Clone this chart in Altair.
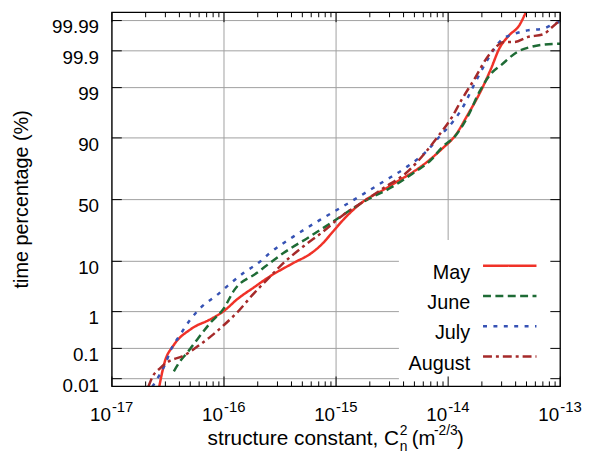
import altair as alt
import pandas as pd
from statistics import NormalDist

# ---------------- data ----------------
months = ["May", "June", "July", "August"]

may_x = [2.64e-17, 2.96e-17, 3.54e-17, 5.08e-17, 7.63e-17, 1.0e-16, 1.31e-16, 1.85e-16,
         2.58e-16, 4.16e-16, 6.03e-16, 7.64e-16, 9.37e-16, 1.19e-15, 1.50e-15, 1.85e-15,
         2.59e-15, 3.63e-15, 5.09e-15, 6.67e-15, 8.76e-15, 1.15e-14, 1.50e-14, 1.98e-14,
         2.42e-14, 2.86e-14, 3.51e-14, 4.30e-14, 4.93e-14, 5.2e-14]
may_p = [0.005, 0.0375, 0.122, 0.36, 0.655, 1.04, 1.92, 3.42, 5.58, 9.4, 13.35, 18.3,
         25.3, 34.8, 43.5, 50.0, 57.6, 65.4, 72.7, 79.0, 85.3, 90.7, 96.15, 98.87, 99.68,
         99.915, 99.968, 99.985, 99.995, 99.997]

june_x = [3.57e-17, 4.02e-17, 4.75e-17, 5.82e-17, 7.63e-17, 1.0e-16, 1.23e-16, 1.97e-16,
          3.39e-16, 5.82e-16, 9.37e-16, 1.41e-15, 1.97e-15, 2.96e-15, 4.76e-15, 7.15e-15,
          8.76e-15, 1.19e-14, 1.50e-14, 1.91e-14, 2.42e-14, 2.97e-14, 4.16e-14, 5.46e-14,
          7.15e-14, 1.0e-13]
june_p = [0.018, 0.0375, 0.0775, 0.191, 0.54, 1.21, 2.97, 6.41, 13.35, 22.1, 32.3, 42.7,
          50.8, 58.9, 70.3, 80.0, 86.0, 91.26, 95.84, 98.77, 99.56, 99.74, 99.893, 99.924,
          99.936, 99.94]

july_x = [2.29e-17, 2.55e-17, 2.96e-17, 3.39e-17, 4.02e-17, 4.92e-17, 6.44e-17, 8.45e-17,
          1.07e-16, 1.50e-16, 2.11e-16, 2.52e-16, 4.16e-16, 7.13e-16, 1.07e-15, 1.50e-15,
          2.59e-15, 4.45e-15, 6.24e-15, 8.47e-15, 1.11e-14, 1.32e-14, 1.73e-14, 2.11e-14,
          2.59e-14, 2.96e-14, 3.88e-14, 5.09e-14, 7.15e-14, 8.76e-14, 1.0e-13]
july_p = [0.005, 0.0102, 0.029, 0.0975, 0.237, 0.593, 1.36, 2.26, 3.62, 6.41, 9.98, 13.05,
          22.1, 33.5, 42.7, 50.8, 64.1, 76.0, 83.6, 90.7, 94.8, 96.97, 99.22, 99.74, 99.915,
          99.953, 99.971, 99.978, 99.981, 99.987, 99.989]

aug_x = [2.11e-17, 2.33e-17, 2.67e-17, 3.16e-17, 4.44e-17, 5.82e-17, 7.63e-17, 1.0e-16,
         1.31e-16, 1.85e-16, 2.58e-16, 3.16e-16, 5.09e-16, 7.64e-16, 1.15e-15, 1.73e-15,
         2.59e-15, 4.45e-15, 6.24e-15, 8.18e-15, 1.07e-14, 1.32e-14, 1.73e-14, 2.19e-14,
         2.59e-14, 3.17e-14, 3.88e-14, 5.09e-14, 7.15e-14, 8.18e-14, 9.9e-14]
aug_p = [0.005, 0.0127, 0.0225, 0.0375, 0.061, 0.116, 0.225, 0.461, 0.956, 2.58, 5.5, 8.3,
         16.5, 25.3, 37.3, 48.0, 58.9, 72.6, 83.5, 90.7, 95.5, 98.1, 99.41, 99.83, 99.915,
         99.947, 99.947, 99.963, 99.971, 99.981, 99.990]

x_decades = [1e-17, 1e-16, 1e-15, 1e-14, 1e-13]
x_exponents = ["-17", "-16", "-15", "-14", "-13"]
y_tick_pct = [0.01, 0.1, 1, 10, 50, 90, 99, 99.9, 99.99]
y_tick_labels = ["0.01", "0.1", "1", "10", "50", "90", "99", "99.9", "99.99"]

# ---------------- styles ----------------
colors = ["#f03228", "#1e6b35", "#3652b4", "#a52a2a"]
dashes = [[1, 0], [8, 4.5], [4, 6.5], [9, 4, 3, 4]]
FONT = "Liberation Sans"
W, H = 453, 378

nd = NormalDist()


def probit(p):
    return nd.inv_cdf(p / 100.0)


rows = []
for m, xs, ps in zip(months, [may_x, june_x, july_x, aug_x], [may_p, june_p, july_p, aug_p]):
    for i, (xv, pv) in enumerate(zip(xs, ps)):
        rows.append({"month": m, "x": xv, "p": pv, "z": probit(pv), "i": i})
df = pd.DataFrame(rows)

xscale = alt.Scale(type="log", domain=[1e-17, 1e-13])
yscale = alt.Scale(domain=[-3.879, 3.891])

dec_df = pd.DataFrame({"x": x_decades, "base": ["10"] * 5, "exp": x_exponents})
minor_df = pd.DataFrame({"x": [m * d for d in x_decades[:-1] for m in range(2, 10)]})
ytick_df = pd.DataFrame({"z": [probit(p) for p in y_tick_pct], "lab": y_tick_labels})
one = pd.DataFrame({"a": [0]})

X = lambda f: alt.X(f, scale=xscale, axis=None)
Y = lambda f: alt.Y(f, scale=yscale, axis=None)

layers = []
# grid
layers.append(alt.Chart(dec_df).mark_rule(color="#a0a0a0", strokeWidth=1).encode(
    x=X("x:Q"), y=alt.value(0), y2=alt.value(H)))
layers.append(alt.Chart(ytick_df).mark_rule(color="#a0a0a0", strokeWidth=1).encode(
    y=Y("z:Q"), x=alt.value(0), x2=alt.value(W)))
# curves
layers.append(alt.Chart(df).mark_line(clip=True, strokeWidth=2.5, interpolate="monotone").encode(
    x=X("x:Q"), y=Y("z:Q"),
    color=alt.Color("month:N", scale=alt.Scale(domain=months, range=colors), legend=None),
    strokeDash=alt.StrokeDash("month:N", scale=alt.Scale(domain=months, range=dashes), legend=None),
    order="i:Q"))
# legend box
layers.append(alt.Chart(one).mark_rect(fill="white").encode(
    x=alt.value(290), x2=alt.value(W), y=alt.value(230), y2=alt.value(H)))
for k, m in enumerate(months):
    base_y = 263.3 + 30.6 * k
    layers.append(alt.Chart(pd.DataFrame({"t": [m]})).mark_text(
        align="right", font=FONT, fontSize=20, color="black").encode(
        x=alt.value(362), y=alt.value(base_y), text="t:N"))
    layers.append(alt.Chart(one).mark_rule(strokeWidth=2.5, color=colors[k], strokeDash=dashes[k]).encode(
        x=alt.value(375), x2=alt.value(429), y=alt.value(base_y - 7.3)))
# ticks (inward, mirrored)
for y0, y1, y2 in [(H, H - 10, H - 5), (0, 10, 5)]:
    layers.append(alt.Chart(dec_df).mark_rule(color="black", strokeWidth=1).encode(
        x=X("x:Q"), y=alt.value(y0), y2=alt.value(y1)))
    layers.append(alt.Chart(minor_df).mark_rule(color="black", strokeWidth=1).encode(
        x=X("x:Q"), y=alt.value(y0), y2=alt.value(y2)))
for x0, x1 in [(0, 10), (W, W - 10)]:
    layers.append(alt.Chart(ytick_df).mark_rule(color="black", strokeWidth=1).encode(
        y=Y("z:Q"), x=alt.value(x0), x2=alt.value(x1)))
# frame
layers.append(alt.Chart(one).mark_rect(fillOpacity=0, stroke="black", strokeWidth=1.3).encode(
    x=alt.value(0), x2=alt.value(W), y=alt.value(0), y2=alt.value(H)))
# tick labels
layers.append(alt.Chart(dec_df).mark_text(align="right", font=FONT, fontSize=19, dx=-1).encode(
    x=X("x:Q"), y=alt.value(407), text="base:N"))
layers.append(alt.Chart(dec_df).mark_text(align="left", font=FONT, fontSize=15, dx=0).encode(
    x=X("x:Q"), y=alt.value(399), text="exp:N"))
layers.append(alt.Chart(ytick_df).mark_text(align="right", font=FONT, fontSize=19, dy=7).encode(
    y=Y("z:Q"), x=alt.value(-13), text="lab:N"))
# axis titles
layers.append(alt.Chart(pd.DataFrame({"t": ["time percentage (%)"]})).mark_text(
    align="center", angle=270, font=FONT, fontSize=20).encode(
    x=alt.value(-91), y=alt.value(H / 2), text="t:N"))
title_parts = [
    ("structure constant, C", 290.2, 431.7, 21, "right"),
    ("n", 290.9, 439.0, 14, "left"),
    ("2", 290.9, 423.5, 14, "left"),
    ("(m", 303.0, 431.7, 20.5, "left"),
    ("-2/3", 325.4, 423.5, 14, "left"),
    (")", 348.6, 431.7, 20.5, "left"),
]
for t, tx, ty, fs, al in title_parts:
    layers.append(alt.Chart(pd.DataFrame({"t": [t]})).mark_text(
        align=al, font=FONT, fontSize=fs).encode(x=alt.value(tx), y=alt.value(ty), text="t:N"))

chart = alt.layer(*layers).properties(
    width=W, height=H,
    padding={"left": 105, "top": 2, "right": 22, "bottom": 66},
    autosize=alt.AutoSizeParams(type="none"),
).configure_view(strokeWidth=0)

chart.save("out.html", embed_options={"renderer": "svg", "actions": False})
